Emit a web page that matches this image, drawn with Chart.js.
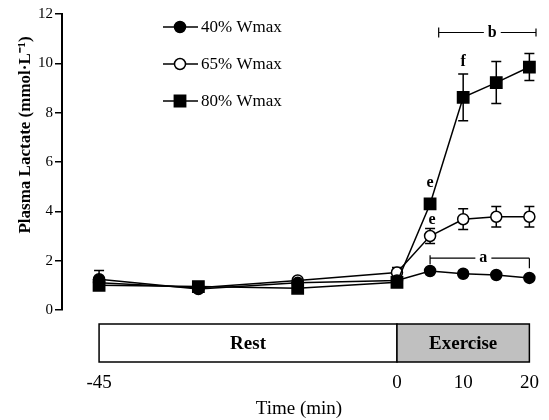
<!DOCTYPE html>
<html>
<head>
<meta charset="utf-8">
<script src="https://cdn.jsdelivr.net/npm/chart.js@4"></script>
<style>
  html, body { margin: 0; padding: 0; background: #fff; }
  #wrap { width: 549px; height: 420px; }
</style>
</head>
<body>
<div id="wrap"><canvas id="lactateChart"></canvas></div>
<script>
// sample times (min) and plasma lactate (mmol/L), mean and error
const times = [-45, -30, -15, 0, 5, 10, 15, 20];
const lactate40 = [1.25, 0.85, 1.1, 1.2, 1.58, 1.47, 1.42, 1.3];
const lactate65 = [1.1, 0.9, 1.2, 1.52, 3.0, 3.68, 3.78, 3.78];
const lactate80 = [1.0, 0.95, 0.88, 1.12, 4.3, 8.62, 9.22, 9.85];
const err40 = [0.35, 0.1, 0.1, 0.15, 0.1, 0.1, 0.1, 0.1];
const err65 = [0.2, 0.1, 0.1, 0.2, 0.3, 0.42, 0.42, 0.42];
const err80 = [0.15, 0.1, 0.1, 0.2, 0.15, 0.95, 0.85, 0.55];
const seriesNames = ['40% Wmax', '65% Wmax', '80% Wmax'];
const xTickValues = [-45, 0, 10, 20];

// protocol phases shown under the plot
const phaseNames = ['Rest', 'Exercise'];
const phaseStart = [-45, 0];
const phaseEnd = [0, 20];

// significance brackets and letters
const bracketText = ['b', 'a'];
const bracketFrom = [6.3, 5];
const bracketTo = [21, 20];
const bracketLevel = [11.25, 2.1];
const bracketTextAt = [14.4, 13.05];
const letterText = ['f', 'e', 'e'];
const letterX = [10, 5, 5.3];
const letterY = [10.05, 5.15, 3.65];

const serif = "'Liberation Serif', 'Times New Roman', serif";
const errorSets = [err40, err65, err80];
const toPoints = vals => times.map((t, i) => ({ x: t, y: vals[i] }));

const extras = {
    id: 'extras',
    beforeDatasetsDraw(chart) {
        const { ctx, scales: { x, y } } = chart;
        ctx.save();
        ctx.strokeStyle = '#000';
        ctx.lineWidth = 1.5;
        chart.data.datasets.forEach((ds, d) => {
            errorSets[d].forEach((e, i) => {
                const px = x.getPixelForValue(times[i]);
                const top = y.getPixelForValue(ds.data[i].y + e);
                const bot = y.getPixelForValue(ds.data[i].y - e);
                ctx.beginPath();
                ctx.moveTo(px, top); ctx.lineTo(px, bot);
                ctx.moveTo(px - 5, top); ctx.lineTo(px + 5, top);
                ctx.moveTo(px - 5, bot); ctx.lineTo(px + 5, bot);
                ctx.stroke();
            });
        });
        ctx.restore();
    },
    afterDraw(chart) {
        const { ctx, chartArea, scales: { x, y } } = chart;
        ctx.save();
        ctx.fillStyle = '#000';
        ctx.strokeStyle = '#000';

        // y title (drawn by hand, it sits above the axis middle)
        ctx.save();
        ctx.translate(26, 135);
        ctx.rotate(-Math.PI / 2);
        ctx.font = 'bold 17px ' + serif;
        ctx.textAlign = 'center';
        ctx.textBaseline = 'middle';
        ctx.fillText('Plasma Lactate (mmol\u00b7L\u207b\u00b9)', 0, 0);
        ctx.restore();

        // legend: line with marker
        ctx.font = '17px ' + serif;
        ctx.textBaseline = 'middle';
        ctx.textAlign = 'left';
        chart.data.datasets.forEach((ds, d) => {
            const ly = 27 + d * 37;
            ctx.lineWidth = 1.5;
            ctx.beginPath();
            ctx.moveTo(163, ly); ctx.lineTo(198, ly);
            ctx.stroke();
            drawMarker(ctx, ds, 180, ly);
            ctx.fillStyle = '#000';
            ctx.fillText(ds.label, 201, ly + 1);
        });

        // brackets
        ctx.font = 'bold 16px ' + serif;
        ctx.textAlign = 'center';
        ctx.lineWidth = 1.2;
        bracketText.forEach((t, i) => {
            const x1 = x.getPixelForValue(bracketFrom[i]);
            const x2 = x.getPixelForValue(bracketTo[i]);
            const tx = x.getPixelForValue(bracketTextAt[i]);
            const by = y.getPixelForValue(bracketLevel[i]);
            const half = ctx.measureText(t).width / 2 + 4;
            ctx.beginPath();
            ctx.moveTo(x1, by); ctx.lineTo(tx - half, by);
            ctx.moveTo(tx + half, by); ctx.lineTo(x2, by);
            if (i === 0) {
                ctx.moveTo(x1, by - 5); ctx.lineTo(x1, by + 5);
                ctx.moveTo(x2, by - 4); ctx.lineTo(x2, by + 4);
            } else {
                ctx.moveTo(x1, by - 3); ctx.lineTo(x1, by + 6);
                ctx.moveTo(x2, by); ctx.lineTo(x2, by + 10);
            }
            ctx.stroke();
            ctx.fillText(t, tx, by);
        });
        letterText.forEach((t, i) => {
            ctx.fillText(t, x.getPixelForValue(letterX[i]), y.getPixelForValue(letterY[i]));
        });

        // phase bar under the plot
        const top = chartArea.bottom + 14;
        const h = 38;
        ctx.font = 'bold 19px ' + serif;
        ctx.lineWidth = 1.5;
        phaseNames.forEach((name, i) => {
            const x1 = x.getPixelForValue(phaseStart[i]);
            const x2 = x.getPixelForValue(phaseEnd[i]);
            ctx.fillStyle = i === 0 ? '#ffffff' : '#c0c0c0';
            ctx.fillRect(x1, top, x2 - x1, h);
            ctx.strokeRect(x1, top, x2 - x1, h);
            ctx.fillStyle = '#000';
            ctx.fillText(name, (x1 + x2) / 2, top + h / 2 + 1);
        });
        ctx.restore();
    }
};

function drawMarker(ctx, ds, px, py) {
    ctx.save();
    ctx.lineWidth = ds.pointBorderWidth;
    ctx.fillStyle = ds.pointBackgroundColor;
    ctx.strokeStyle = '#000';
    ctx.beginPath();
    if (ds.pointStyle === 'rect') {
        const s = ds.pointRadius / Math.SQRT2;
        ctx.rect(px - s, py - s, 2 * s, 2 * s);
    } else {
        ctx.arc(px, py, ds.pointRadius, 0, Math.PI * 2);
    }
    ctx.fill();
    ctx.stroke();
    ctx.restore();
}

function series(label, vals, style, radius, fill, order) {
    return {
        label: label,
        data: toPoints(vals),
        borderColor: '#000',
        borderWidth: 1.5,
        pointStyle: style,
        pointRadius: radius,
        pointHoverRadius: radius,
        pointBackgroundColor: fill,
        pointBorderColor: '#000',
        pointBorderWidth: 1.5,
        tension: 0,
        fill: false,
        order: order
    };
}

new Chart(document.getElementById('lactateChart'), {
    type: 'line',
    data: {
        datasets: [
            series(seriesNames[0], lactate40, 'circle', 5.5, '#000', 1),
            series(seriesNames[1], lactate65, 'circle', 5.5, '#fff', 2),
            series(seriesNames[2], lactate80, 'rect', 8, '#000', 0)
        ]
    },
    options: {
        responsive: true,
        maintainAspectRatio: false,
        animation: false,
        layout: { padding: { top: 14, right: 13, bottom: 0, left: 0 } },
        plugins: { legend: { display: false }, tooltip: { enabled: false } },
        scales: {
            x: {
                type: 'linear',
                min: -50.6,
                max: 21,
                grid: { display: false },
                border: { display: false },
                afterBuildTicks: scale => { scale.ticks = xTickValues.map(v => ({ value: v })); },
                afterFit: scale => {
                    scale.height = 110;
                    scale.paddingLeft = 0;
                    scale.paddingRight = 0;
                },
                ticks: {
                    color: '#000',
                    padding: 54,
                    maxRotation: 0,
                    autoSkip: false,
                    font: { family: serif, size: 19 }
                },
                title: {
                    display: true,
                    text: 'Time (min)',
                    color: '#000',
                    padding: { top: 0, bottom: 0 },
                    font: { family: serif, size: 19 }
                }
            },
            y: {
                min: 0,
                max: 12,
                afterFit: scale => { scale.width = 62; },
                grid: { drawOnChartArea: false, drawTicks: true, tickLength: 7, color: '#000', lineWidth: 1.5 },
                border: { display: true, color: '#000', width: 2 },
                ticks: {
                    stepSize: 2,
                    color: '#000',
                    padding: 2,
                    font: { family: serif, size: 15 }
                }
            }
        }
    },
    plugins: [extras]
});
</script>
</body>
</html>
